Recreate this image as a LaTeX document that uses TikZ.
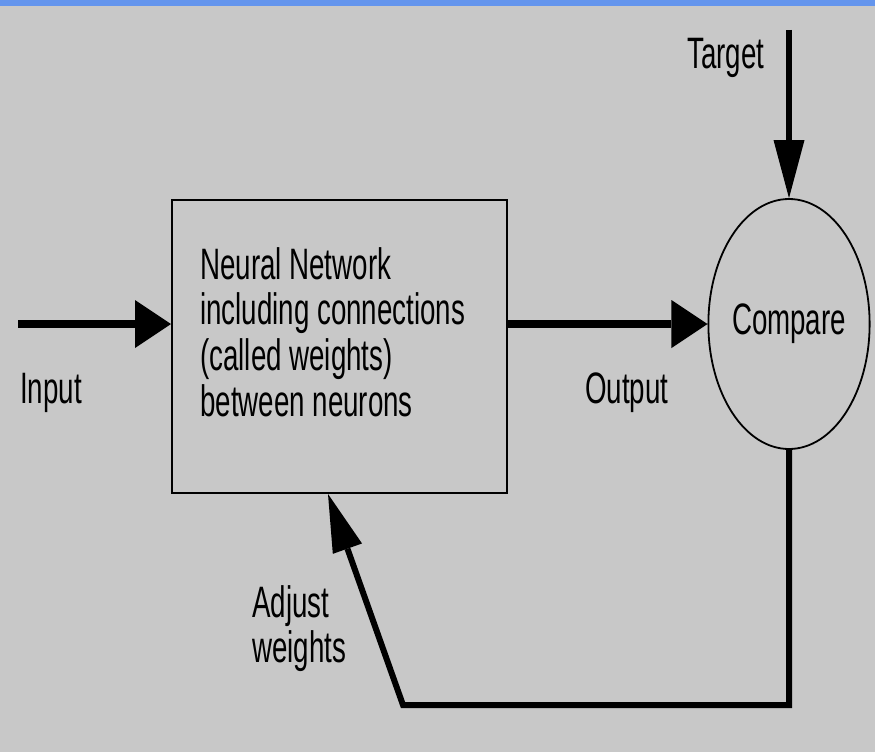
\documentclass[tikz,border=0pt]{standalone}
\usepackage{fontspec}
\newfontfamily\lblfont[FakeStretch=0.63]{Liberation Sans}
\usetikzlibrary{arrows.meta,shapes.geometric}
\definecolor{bggray}{RGB}{200,200,200}
\definecolor{bandblue}{RGB}{100,149,237}
\begin{document}
\begin{tikzpicture}[x=1pt,y=-1pt,
  lbl/.style={font=\lblfont\fontsize{44}{45.7}\selectfont,inner sep=0pt,text=black},
  netbox/.style={draw,line width=2pt,minimum width=335pt,minimum height=293pt,inner sep=0pt},
  cmpnode/.style={draw,ellipse,line width=1.8pt,minimum width=154pt,minimum height=250pt,inner sep=0pt},
  wide/.style={line width=8pt,-{Triangle[length=36pt,width=48pt,line width=0pt]}},
  slim/.style={line width=6pt,-{Triangle[length=58pt,width=31pt,line width=0pt]}}]
%
\fill[bggray](0,0) rectangle (875,752);
\fill[bandblue](0,0) rectangle (875,6);
\useasboundingbox(0,0) rectangle (875,752);
%
\node[netbox](net) at (339.5,346.5){};
\node[lbl,align=left,anchor=north west](nettext) at (200,247){Neural Network\\including connections\\(called weights)\\between neurons};
\node[lbl,cmpnode](cmp) at (789,324){Compare};
\node[lbl,anchor=base west](inlbl) at (20,403){Input};
\node[lbl,anchor=base west](outlbl) at (585,403){Output};
\node[lbl,anchor=base west](tgtlbl) at (687,68){Target};
\node[lbl,align=left,anchor=north west](adjlbl) at (252,585){Adjust\\weights};
%
\coordinate(in) at (18,324);
\coordinate(tgt) at (789,30);
\coordinate(fbcorner) at (403,705);
%
\draw[wide](in)--(in -| net.west);
\draw[wide](net.east |- cmp.west)--(cmp.west);
\draw[slim](tgt)--(cmp.north);
\draw[slim,line join=miter](cmp.south)--(cmp.south |- fbcorner)--(fbcorner)--([xshift=-11.5pt]net.south);
\end{tikzpicture}
\end{document}
